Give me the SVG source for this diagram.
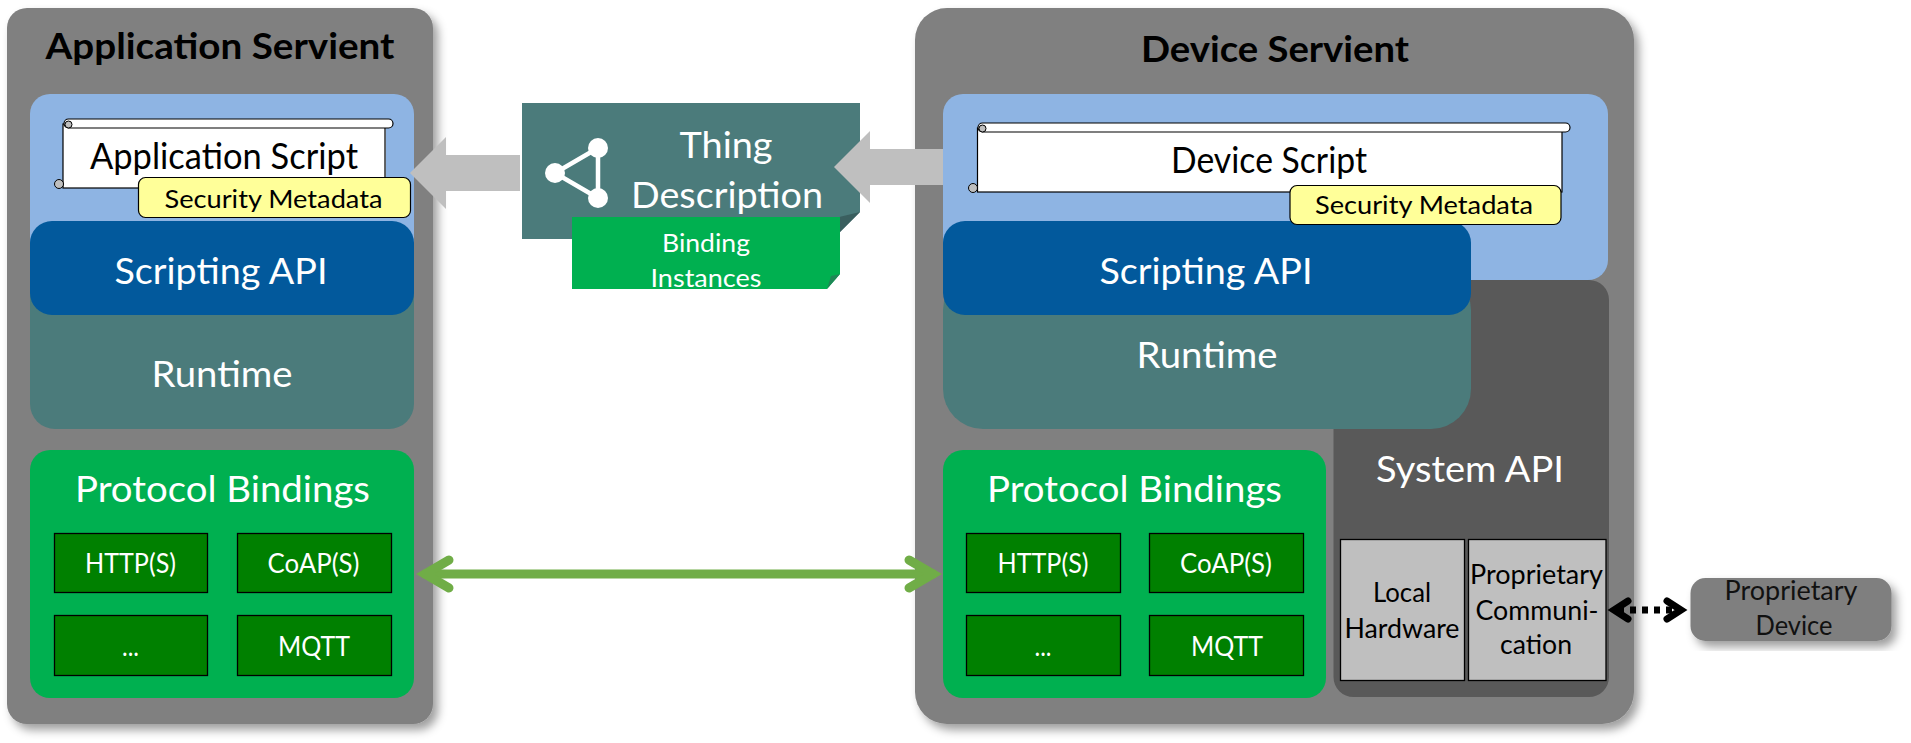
<svg xmlns="http://www.w3.org/2000/svg" width="1911" height="743" viewBox="0 0 1911 743">
<style>
text{font-family:Lato,"Open Sans","Liberation Sans",sans-serif;text-anchor:middle}
.w{fill:#fff}.k{fill:#000}
.t36{font-size:37px}.t25{font-size:26px}.t24{font-size:25px}.b{font-weight:700}
.outer{fill:#808080}
.blue{fill:#8EB4E3}.api{fill:#02599C}.rt{fill:#4B7B7B}.pb{fill:#00B050}
.proto{fill:#008000;stroke:#000;stroke-width:1.3}
.hw{fill:#BFBFBF;stroke:#000;stroke-width:1.3}
.yel{fill:#FFFF99;stroke:#000;stroke-width:1.2}
.sc{fill:#fff;stroke:#000;stroke-width:1.2}
.scs{fill:none;stroke:#666;stroke-width:1.5}
.curl{fill:#BFBFBF;stroke:#000;stroke-width:1}
.ic{stroke:#fff;stroke-width:4.5;fill:none}
.gr{fill:none;stroke:#70AD47;stroke-width:9;stroke-linecap:round}
.bk{fill:none;stroke:#000;stroke-width:7;stroke-linecap:round}
</style>
<defs>
<filter id="sh" x="-10%" y="-10%" width="125%" height="125%"><feDropShadow dx="5" dy="6" stdDeviation="5" flood-color="#000" flood-opacity="0.38"/></filter>
</defs>

<g id="application-servient">
<rect class="outer" x="7" y="8" width="426" height="716" rx="20" filter="url(#sh)"/>
<text class="t36 b k" x="220" y="59" textLength="349" lengthAdjust="spacingAndGlyphs">Application Servient</text>
</g>
<g id="app-script-layer">
<rect class="blue" x="30" y="94" width="384" height="180" rx="20"/>
</g>
<g id="app-runtime">
<rect class="rt" x="30" y="270" width="384" height="159" rx="25"/>
<text class="t36 w" x="222" y="387" textLength="141" lengthAdjust="spacingAndGlyphs">Runtime</text>
</g>
<g id="app-scripting-api">
<rect class="api" x="30" y="221" width="384" height="94" rx="22"/>
<text class="t36 w" x="221" y="284" textLength="213" lengthAdjust="spacingAndGlyphs">Scripting API</text>
</g>
<g id="app-script">
<rect class="sc" x="63" y="124" width="322" height="64"/>
<path class="scs" d="M385 128V177"/>
<rect class="sc" x="64" y="119" width="329" height="9" rx="4.5"/>
<circle class="curl" cx="68.500" cy="124.500" r="3.500"/>
<circle class="curl" cx="59" cy="184" r="4.500"/>
<text class="t36 k" x="224" y="169" textLength="268" lengthAdjust="spacingAndGlyphs">Application Script</text>
</g>
<g id="app-security-metadata">
<rect class="yel" x="138.500" y="177.500" width="272" height="40" rx="7"/>
<text class="t24 k" x="273.500" y="207.500" textLength="218" lengthAdjust="spacingAndGlyphs">Security Metadata</text>
</g>
<g id="app-protocol-bindings">
<rect class="pb" x="30" y="450" width="384" height="248" rx="20"/>
<text class="t36 w" x="222.500" y="502" textLength="295" lengthAdjust="spacingAndGlyphs">Protocol Bindings</text>
<rect class="proto" x="54.500" y="533.500" width="153" height="59"/>
<text class="t25 w" x="130.500" y="572.500" textLength="91" lengthAdjust="spacingAndGlyphs">HTTP(S)</text>
<rect class="proto" x="237.500" y="533.500" width="154" height="59"/>
<text class="t25 w" x="313.500" y="572.500" textLength="92" lengthAdjust="spacingAndGlyphs">CoAP(S)</text>
<rect class="proto" x="54.500" y="615.500" width="153" height="60"/>
<text class="t25 w" x="130.500" y="655.500" textLength="17" lengthAdjust="spacingAndGlyphs">...</text>
<rect class="proto" x="237.500" y="615.500" width="154" height="60"/>
<text class="t25 w" x="314" y="655.500" textLength="72" lengthAdjust="spacingAndGlyphs">MQTT</text>
</g>

<g id="thing-description">
<path class="rt" d="M522 103H860V212L833 239H522Z"/>
<path fill="#3A5F5F" d="M835 218L860 212L833 239Z"/>
<g class="ic"><path d="M598 148L555 173L598 198Z"/></g>
<circle class="w" cx="598" cy="148" r="10"/><circle class="w" cx="555" cy="173" r="10"/><circle class="w" cx="598" cy="198" r="10"/>
<text class="t36 w" x="726" y="158" textLength="93" lengthAdjust="spacingAndGlyphs">Thing</text>
<text class="t36 w" x="727" y="208" textLength="192" lengthAdjust="spacingAndGlyphs">Description</text>
</g>
<g id="binding-instances">
<path class="pb" d="M572 217H840V274L827 289H572Z"/>
<path fill="#1E8756" d="M827 289L831 276L840 274Z"/>
<text class="t24 w" x="706" y="251.500" textLength="88" lengthAdjust="spacingAndGlyphs">Binding</text>
<text class="t24 w" x="706" y="286.500" textLength="111" lengthAdjust="spacingAndGlyphs">Instances</text>
</g>

<g id="device-servient">
<rect class="outer" x="915" y="8" width="719" height="716" rx="32" filter="url(#sh)"/>
<text class="t36 b k" x="1275" y="62" textLength="268" lengthAdjust="spacingAndGlyphs">Device Servient</text>
</g>
<g id="device-script-layer">
<rect class="blue" x="943" y="94" width="665" height="186" rx="20"/>
</g>
<g id="system-api">
<path fill="#595959" d="M1333.500 428V280H1589A20 20 0 0 1 1609 300V677A20 20 0 0 1 1589 697H1353.500A20 20 0 0 1 1333.500 677Z"/>
<text class="t36 w" x="1470" y="482" textLength="188" lengthAdjust="spacingAndGlyphs">System API</text>
</g>
<g id="local-hardware">
<rect class="hw" x="1340.500" y="539.500" width="124" height="141"/>
<text class="t25 k" x="1402" y="602" textLength="58" lengthAdjust="spacingAndGlyphs">Local</text>
<text class="t25 k" x="1402" y="638" textLength="115" lengthAdjust="spacingAndGlyphs">Hardware</text>
</g>
<g id="proprietary-communication">
<rect class="hw" x="1468.500" y="539.500" width="137.500" height="141"/>
<text class="t25 k" x="1536.500" y="584" textLength="133" lengthAdjust="spacingAndGlyphs">Proprietary</text>
<text class="t25 k" x="1537" y="620" textLength="123" lengthAdjust="spacingAndGlyphs">Communi-</text>
<text class="t25 k" x="1536" y="654" textLength="72" lengthAdjust="spacingAndGlyphs">cation</text>
</g>
<g id="device-runtime">
<rect class="rt" x="943" y="270" width="528" height="159" rx="40"/>
<text class="t36 w" x="1207" y="368" textLength="141" lengthAdjust="spacingAndGlyphs">Runtime</text>
</g>
<g id="device-scripting-api">
<rect class="api" x="943" y="221" width="528" height="94" rx="22"/>
<text class="t36 w" x="1206" y="284" textLength="213" lengthAdjust="spacingAndGlyphs">Scripting API</text>
</g>
<g id="device-script">
<rect class="sc" x="977.500" y="128" width="584.500" height="64"/>
<rect class="sc" x="978" y="123" width="592" height="9" rx="4.500"/>
<circle class="curl" cx="982.500" cy="128.500" r="3.500"/>
<circle class="curl" cx="973" cy="188" r="4.500"/>
<text class="t36 k" x="1269" y="173" textLength="196" lengthAdjust="spacingAndGlyphs">Device Script</text>
</g>
<g id="device-security-metadata">
<rect class="yel" x="1290" y="185.500" width="271" height="39" rx="7"/>
<text class="t24 k" x="1424" y="213.500" textLength="218" lengthAdjust="spacingAndGlyphs">Security Metadata</text>
</g>
<g id="device-protocol-bindings">
<rect class="pb" x="943" y="450" width="383" height="248" rx="20"/>
<text class="t36 w" x="1134.500" y="502" textLength="295" lengthAdjust="spacingAndGlyphs">Protocol Bindings</text>
<rect class="proto" x="966.500" y="533.500" width="154" height="59"/>
<text class="t25 w" x="1043" y="572.500" textLength="91" lengthAdjust="spacingAndGlyphs">HTTP(S)</text>
<rect class="proto" x="1149.500" y="533.500" width="154" height="59"/>
<text class="t25 w" x="1226" y="572.500" textLength="92" lengthAdjust="spacingAndGlyphs">CoAP(S)</text>
<rect class="proto" x="966.500" y="615.500" width="154" height="60"/>
<text class="t25 w" x="1043" y="655.500" textLength="17" lengthAdjust="spacingAndGlyphs">...</text>
<rect class="proto" x="1149.500" y="615.500" width="154" height="60"/>
<text class="t25 w" x="1227" y="655.500" textLength="72" lengthAdjust="spacingAndGlyphs">MQTT</text>
</g>

<g id="proprietary-device">
<rect fill="#7F7F7F" x="1690.500" y="578" width="201" height="63" rx="15" filter="url(#sh)"/>
<text class="t25" fill="#111" x="1791" y="600" textLength="133" lengthAdjust="spacingAndGlyphs">Proprietary</text>
<text class="t25" fill="#111" x="1794" y="635" textLength="77" lengthAdjust="spacingAndGlyphs">Device</text>
</g>

<g id="connectors">
<path fill="#BFBFBF" d="M520 155V191H446V209L410 173L446 137V155Z"/>
<path fill="#BFBFBF" d="M943 149V185H870V203L834 167L870 131V149Z"/>
<path class="gr" stroke-linecap="butt" d="M425 574H933"/>
<path class="gr" stroke-linejoin="miter" d="M449 560L425 574L449 588"/>
<path class="gr" stroke-linejoin="miter" d="M909 560L933 574L909 588"/>
<path fill="none" stroke="#000" stroke-width="7" stroke-dasharray="6 6" d="M1618 610H1678"/>
<path class="bk" stroke-linejoin="miter" d="M1628 601L1614 610L1628 619"/>
<path class="bk" stroke-linejoin="miter" d="M1667 601L1681 610L1667 619"/>
</g>
</svg>
